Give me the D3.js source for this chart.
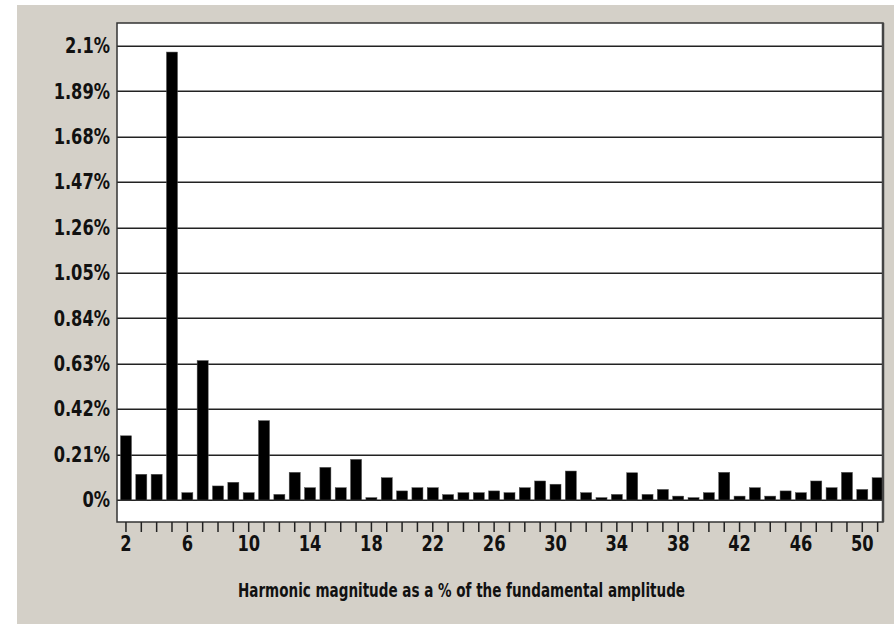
<!DOCTYPE html>
<html>
<head>
<meta charset="utf-8">
<script src="https://cdn.jsdelivr.net/npm/d3@7"></script>
<style>
  html, body { margin: 0; padding: 0; background: #ffffff; }
  svg { display: block; }
  text { font-family: "DejaVu Sans Condensed", "DejaVu Sans", sans-serif; font-stretch: condensed; fill: #111; }
</style>
</head>
<body>
<svg id="chart" width="894" height="624"></svg>
<script>
// Harmonic orders 2..51
const harmonics = [2,3,4,5,6,7,8,9,10,11,12,13,14,15,16,17,18,19,20,21,22,23,24,25,26,27,28,29,30,31,32,33,34,35,36,37,38,39,40,41,42,43,44,45,46,47,48,49,50,51];
// Harmonic magnitude (% of fundamental)
const magnitudes = [0.297,0.119,0.119,2.072,0.034,0.645,0.065,0.082,0.034,0.367,
                    0.026,0.128,0.057,0.151,0.057,0.188,0.011,0.103,0.042,0.057,
                    0.057,0.025,0.034,0.034,0.042,0.034,0.057,0.088,0.073,0.134,
                    0.034,0.011,0.026,0.126,0.026,0.049,0.018,0.011,0.034,0.128,
                    0.018,0.057,0.018,0.042,0.034,0.088,0.057,0.128,0.049,0.103];
const yTicks = [0, 0.21, 0.42, 0.63, 0.84, 1.05, 1.26, 1.47, 1.68, 1.89, 2.1];
const yTickLabels = ["0%","0.21%","0.42%","0.63%","0.84%","1.05%","1.26%","1.47%","1.68%","1.89%","2.1%"];
const xLabelHarmonics = [2,6,10,14,18,22,26,30,34,38,42,46,50];
const xTitle = "Harmonic magnitude as a % of the fundamental amplitude";

const svg = d3.select("#chart");
const W = 894, H = 624;

// panel background
svg.append("rect").attr("x", 17).attr("y", 5).attr("width", W - 17).attr("height", H - 5).attr("fill", "#d4d0c8");

const plot = { left: 117, top: 23, right: 883, bottom: 522 };

// y scale: 0 at 500px, 2.1 at 46px
const pxPerUnit = (500 - 46) / 2.1;
const yMin = -(plot.bottom - 500) / pxPerUnit;
const yMax = 2.1 + (46 - plot.top) / pxPerUnit;
const y = d3.scaleLinear().domain([yMin, yMax]).range([plot.bottom, plot.top]);

const x = d3.scaleBand().domain(harmonics).range([118.3, 885.3]).paddingInner(0.28).paddingOuter(0.14);

// plot area
svg.append("rect").attr("x", plot.left).attr("y", plot.top)
  .attr("width", plot.right - plot.left).attr("height", plot.bottom - plot.top)
  .attr("fill", "#ffffff");

// gridlines
svg.append("g").selectAll("line").data(yTicks).join("line")
  .attr("x1", plot.left).attr("x2", plot.right)
  .attr("y1", d => Math.round(y(d)) + 0.25).attr("y2", d => Math.round(y(d)) + 0.25)
  .attr("stroke", "#222").attr("stroke-width", 1.5);

// bars
svg.append("g").selectAll("rect").data(harmonics).join("rect")
  .attr("x", d => x(d))
  .attr("width", x.bandwidth())
  .attr("y", (d, i) => y(magnitudes[i]))
  .attr("height", (d, i) => y(0) - y(magnitudes[i]))
  .attr("fill", "#000")
  .attr("stroke", "#555").attr("stroke-width", 0.5);

// frame
svg.append("rect").attr("x", plot.left).attr("y", plot.top)
  .attr("width", plot.right - plot.left).attr("height", plot.bottom - plot.top)
  .attr("fill", "none").attr("stroke", "#333").attr("stroke-width", 1.5);
svg.append("line").attr("x1", plot.right).attr("x2", plot.right)
  .attr("y1", plot.top).attr("y2", plot.bottom)
  .attr("stroke", "#444").attr("stroke-width", 2.5);

function condense(sel, factor) {
  sel.each(function () {
    const len = this.getComputedTextLength();
    if (len > 0) {
      d3.select(this).attr("textLength", len * factor).attr("lengthAdjust", "spacingAndGlyphs");
    }
  });
}

// y axis labels
const yAxis = d3.axisLeft(y).tickValues(yTicks)
  .tickFormat((d, i) => yTickLabels[i]).tickSize(0).tickPadding(7);
const gy = svg.append("g").attr("transform", `translate(${plot.left},0)`).call(yAxis);
gy.select(".domain").remove();
gy.selectAll("text").style("font-size", "21px").style("font-weight", "bold").attr("fill", "#111")
  .style("font-family", '"DejaVu Sans Condensed", "DejaVu Sans", sans-serif');
condense(gy.selectAll("text"), 0.86);

// x axis
const xAxis = d3.axisBottom(x).tickValues(harmonics)
  .tickFormat(d => xLabelHarmonics.includes(d) ? String(d) : "")
  .tickSize(10).tickPadding(4);
const gx = svg.append("g").attr("transform", `translate(0,${plot.bottom})`).call(xAxis);
gx.select(".domain").remove();
gx.selectAll(".tick line").attr("stroke", "#222").attr("stroke-width", 1.5);
gx.selectAll("text").style("font-size", "21px").style("font-weight", "bold").attr("fill", "#111")
  .style("font-family", '"DejaVu Sans Condensed", "DejaVu Sans", sans-serif');
condense(gx.selectAll("text"), 0.86);

// x title
svg.append("text").attr("x", 461.5).attr("y", 597).attr("text-anchor", "middle")
  .style("font-size", "20px").style("font-weight", "bold")
  .attr("textLength", 447).attr("lengthAdjust", "spacingAndGlyphs")
  .text(xTitle);
</script>
</body>
</html>
